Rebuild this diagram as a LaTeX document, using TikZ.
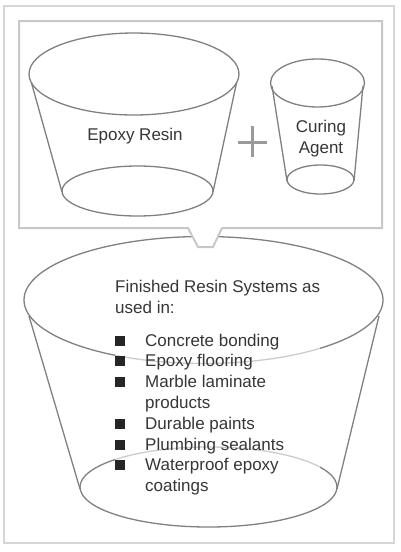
\documentclass[tikz,border=0pt]{standalone}
\usepackage{fontspec}
\setmainfont{Liberation Sans}

\definecolor{rim}{HTML}{808080}
\definecolor{frame}{HTML}{C8C8C8}
\definecolor{ink}{HTML}{363636}

\newcommand{\bul}{\makebox[30pt][l]{\raisebox{0.5pt}{\color{black!85}\rule{10pt}{10pt}}}}

\begin{document}
\begin{tikzpicture}[x=1pt, y=-1pt,
    bucket/.style={draw=rim, line width=1.3pt},
    label/.style={text=ink, font=\fontsize{17}{20.8}\selectfont, inner sep=0pt}]
    \useasboundingbox (0,0) rectangle (400,552);
    \draw [frame!75, line width=1.5pt] (4,6) rectangle (394,543);

    % finished resin bucket
    \draw [bucket] (203.5,300) ellipse [x radius=179.5, y radius=63.5];
    \draw [bucket] (208.5,487) ellipse [x radius=128.5, y radius=40];
    \draw [bucket] (29,316) -- (80,489)
                   (379,316) -- (337,489);

    % mixing box with its pointer
    \draw [frame, line width=2pt, fill=white]
      (19,21) -- (382,21) -- (382,228) -- (222,228) -- (213,247)
      -- (198,247) -- (188,228) -- (19,228) -- cycle;

    % epoxy resin bucket
    \draw [bucket] (134,74) ellipse [x radius=105, y radius=41];
    \draw [bucket] (137.5,191) ellipse [x radius=75.5, y radius=25];
    \draw [bucket] (31.5,83) -- (62,192)
                   (236.5,83) -- (213,192);

    % curing agent bucket
    \draw [bucket] (317.5,83) ellipse [x radius=47, y radius=24];
    \draw [bucket] (320.5,179.5) ellipse [x radius=33.5, y radius=14.5];
    \draw [bucket] (272,86) -- (287,181)
                   (363,86) -- (354,181);

    % plus sign
    \draw [rim!80, line width=3pt] (238,142) -- (267,142)
                                   (252.5,126) -- (252.5,157);

    \node (resin) [label, anchor=base] at (135,140) {Epoxy Resin};
    \node (curing) [label, anchor=north, align=center] at (321,120)
      {Curing\\Agent};
    \node (uses) [label, anchor=north west, align=left,
                  fill=white, fill opacity=0.6, text opacity=1] at (115,280)
      {Finished Resin Systems as\\
       used in:\\[12pt]
       \bul Concrete bonding\\
       \bul Epoxy flooring\\
       \bul Marble laminate\\
       \hspace*{30pt}products\\
       \bul Durable paints\\
       \bul Plumbing sealants\\
       \bul Waterproof epoxy\\
       \hspace*{30pt}coatings};
  \end{tikzpicture}
\end{document}
